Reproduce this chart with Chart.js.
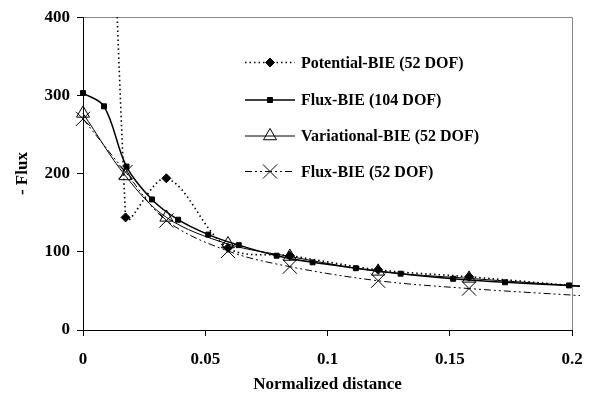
<!DOCTYPE html>
<html><head><meta charset="utf-8">
<script src="https://cdn.jsdelivr.net/npm/chart.js@4/dist/chart.umd.min.js"></script>
<style>html,body{margin:0;padding:0;background:#fff;}#wrap{width:590px;height:396px;position:relative;}</style>
</head><body><div id="wrap"><canvas id="c" width="590" height="396"></canvas></div>
<script>
// ---- data ----
const seriesNames = ["Potential-BIE (52 DOF)", "Flux-BIE (104 DOF)", "Variational-BIE (52 DOF)", "Flux-BIE (52 DOF)"];
const x52 = [0, 0.0174, 0.0341, 0.0593, 0.0846, 0.1207, 0.1579, 0.2033];
const potentialBIE52 = [2500, 144, 194, 105, 95, 77, 68, 56];
const variationalBIE52 = [277, 197, 144, 110, 94, 75, 66, 56];
const fluxBIE52 = [270, 202, 140, 101, 81, 63, 53, 44];
const x104 = [0, 0.0086, 0.0178, 0.0282, 0.0389, 0.0512, 0.0637, 0.0792, 0.0939, 0.1116, 0.1299, 0.1514, 0.1726, 0.1988, 0.2033];
const fluxBIE104 = [303, 286, 209, 167, 141, 122, 108.5, 95, 86.5, 79, 72, 65.5, 61, 57, 56];
const xTicks = [0, 0.05, 0.1, 0.15, 0.2];
const yTicks = [0, 100, 200, 300, 400];
const xTitle = "Normalized distance";
const yTitle = "- Flux";

const FONT = "'Liberation Serif', 'Times New Roman', serif";
const pts = (xs, ys) => xs.map((x, i) => ({x: x, y: ys[i]}));
const noLastMarker = r => ctx => (ctx.dataIndex === ctx.dataset.data.length - 1 ? 0 : r);

const datasets = [
  {label: seriesNames[0], data: pts(x52, potentialBIE52), borderColor: '#000', borderWidth: 1.6,
   borderDash: [1.5, 3], pointStyle: 'rectRot', pointRadius: noLastMarker(4.5), backgroundColor: '#000',
   pointBackgroundColor: '#000', pointBorderColor: '#000', pointBorderWidth: 1, capBezierPoints: false, legendY: 62.5},
  {label: seriesNames[1], data: pts(x104, fluxBIE104), borderColor: '#000', borderWidth: 1.5,
   pointStyle: 'rect', pointRadius: noLastMarker(3.5), backgroundColor: '#000',
   pointBackgroundColor: '#000', pointBorderColor: '#000', pointBorderWidth: 1, legendY: 100},
  {label: seriesNames[2], data: pts(x52, variationalBIE52), borderColor: '#000', borderWidth: 1,
   pointStyle: 'triangle', pointRadius: noLastMarker(7.5), backgroundColor: 'rgba(0,0,0,0)',
   pointBackgroundColor: 'rgba(0,0,0,0)', pointBorderColor: '#000', pointBorderWidth: 1, legendY: 136},
  {label: seriesNames[3], data: pts(x52, fluxBIE52), borderColor: '#000', borderWidth: 1,
   borderDash: [7, 3, 2, 3, 2, 3], pointStyle: 'crossRot', pointRadius: noLastMarker(10), backgroundColor: '#000',
   pointBackgroundColor: '#000', pointBorderColor: '#000', pointBorderWidth: 1, legendY: 171.5}
];
datasets.forEach(d => { d.tension = 0.35; d.fill = false; d.clip = {left: 12, top: 0, right: 8, bottom: 0}; });

const lineLegend = {
  id: 'lineLegend',
  afterDraw(chart) {
    const ctx = chart.ctx;
    ctx.save();
    chart.data.datasets.forEach(ds => {
      const y = ds.legendY;
      ctx.strokeStyle = '#000';
      ctx.lineWidth = ds.borderWidth;
      ctx.setLineDash(ds.borderDash || []);
      ctx.beginPath(); ctx.moveTo(245, y); ctx.lineTo(295, y); ctx.stroke();
      ctx.setLineDash([]);
      ctx.fillStyle = ds.pointBackgroundColor;
      ctx.strokeStyle = ds.pointBorderColor;
      ctx.lineWidth = ds.pointBorderWidth;
      const r = typeof ds.pointRadius === 'function' ? ds.pointRadius({dataIndex: 0, dataset: ds}) : ds.pointRadius;
      Chart.helpers.drawPoint(ctx, {pointStyle: ds.pointStyle, radius: r, rotation: 0, borderWidth: ds.pointBorderWidth}, 270, y);
      ctx.fillStyle = '#000';
      ctx.font = "bold 16px " + FONT;
      ctx.textAlign = 'left'; ctx.textBaseline = 'middle';
      ctx.fillText(ds.label, 301, y + 1);
    });
    ctx.restore();
  }
};

new Chart(document.getElementById('c'), {
  type: 'line',
  data: {datasets: datasets},
  plugins: [lineLegend],
  options: {
    responsive: false, animation: false, devicePixelRatio: 1,
    layout: {padding: {left: 0, right: 18, top: 14, bottom: 0}},
    plugins: {legend: {display: false}, tooltip: {enabled: false}},
    scales: {
      x: {
        type: 'linear', min: 0, max: 0.2,
        afterBuildTicks: s => { s.ticks = xTicks.map(v => ({value: v})); },
        afterFit: s => { s.height = 66; s.paddingLeft = 0; s.paddingRight = 12; },
        border: {color: '#000', width: 1},
        grid: {color: c => (c.tick && c.tick.value === 0.2 ? '#888' : 'rgba(0,0,0,0)'), tickColor: '#000', tickLength: 6, lineWidth: 1},
        ticks: {color: '#000', font: {family: FONT, size: 17, weight: 'bold'}, padding: 13, maxRotation: 0,
                callback: v => String(v)},
        title: {display: true, text: xTitle, color: '#000', font: {family: FONT, size: 17, weight: 'bold'}, padding: {top: 0, bottom: 1}}
      },
      y: {
        type: 'linear', min: 0, max: 400,
        afterBuildTicks: s => { s.ticks = yTicks.map(v => ({value: v})); },
        afterFit: s => { s.width = 83; },
        border: {color: '#000', width: 1},
        grid: {color: c => (c.tick && c.tick.value === 400 ? '#888' : 'rgba(0,0,0,0)'), tickColor: '#000', tickLength: 6, lineWidth: 1},
        ticks: {color: '#000', font: {family: FONT, size: 17, weight: 'bold'}, padding: 7, callback: v => String(v)},
        title: {display: true, text: yTitle, color: '#000', font: {family: FONT, size: 17, weight: 'bold'}, padding: {top: 12, bottom: 0}}
      }
    }
  }
});
</script></body></html>
